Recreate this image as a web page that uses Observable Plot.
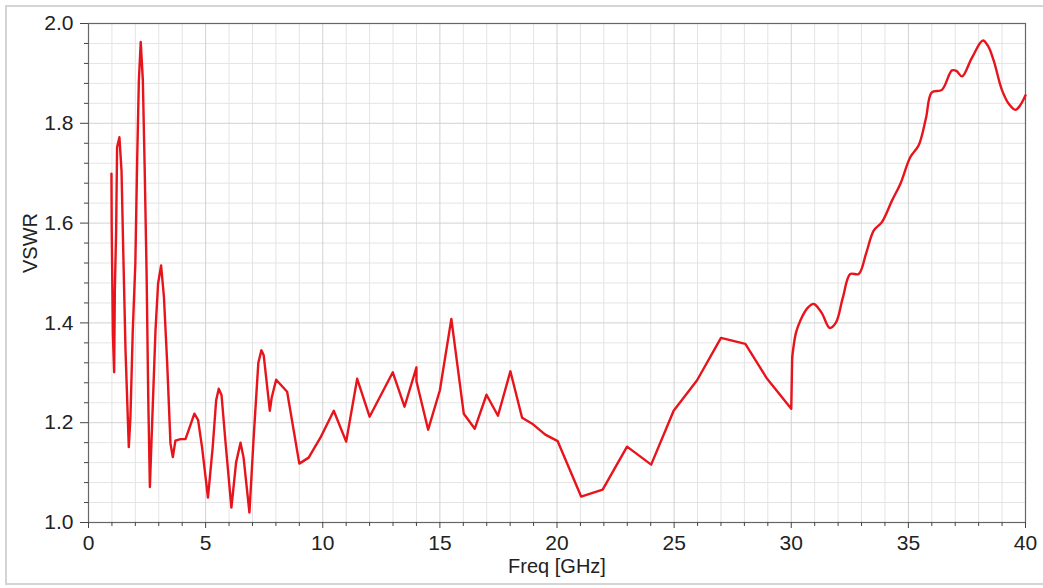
<!DOCTYPE html>
<html>
<head>
<meta charset="utf-8">
<script src="https://cdn.jsdelivr.net/npm/d3@7"></script>
<script src="https://cdn.jsdelivr.net/npm/@observablehq/plot@0.6"></script>
<style>
  body { margin: 0; background: #fff; }
  #wrap { position: relative; width: 1043px; height: 588px; overflow: hidden; }
  #border { position: absolute; left: 5px; top: 5px; width: 1050px; height: 580px; border: 2px solid #d4d4d4; box-sizing: border-box; pointer-events: none; }
</style>
</head>
<body>
<div id="wrap"><div id="border"></div></div>
<script>
const freq = [
  0.98, 0.99, 1.04, 1.095, 1.124, 1.18, 1.22, 1.32, 1.41, 1.47, 1.58, 1.72, 1.79, 1.89, 2.0, 2.08, 2.15, 2.23, 2.32, 2.40, 2.48, 2.55, 2.62, 2.69, 2.86, 2.97, 3.1, 3.22, 3.36, 3.5, 3.6, 3.71, 3.93, 4.14,
  4.35, 4.52, 4.68, 4.85, 5.1, 5.3, 5.45, 5.56, 5.68, 5.85, 6.1, 6.3, 6.49, 6.62, 6.87, 7.05, 7.25, 7.38, 7.48, 7.74, 7.82, 8.01, 8.48, 9.0, 9.4, 9.9, 10.47,
  11.0, 11.47, 12.0, 12.99, 13.49, 14.0, 14.0, 14.5, 15.0, 15.49, 16.02, 16.49, 16.99, 17.48, 18.01, 18.51, 18.94, 19.5, 20.03,
  21.03, 21.95, 22.99, 24.02, 24.98, 25.98, 27.0, 28.04, 28.97, 30.0, 30.04, 30.2, 30.39, 30.7, 30.96, 31.3, 31.64, 31.9, 32.2, 32.52, 32.88,
  33.2, 33.52, 33.87, 34.3, 34.66, 35.08, 35.44, 35.75, 36.0, 36.43, 36.86, 37.05, 37.29, 37.7, 38.18, 38.4, 38.64, 39.0, 39.3, 39.57, 39.8, 40.0
];
const vswr = [
  1.699, 1.592, 1.379, 1.301, 1.465, 1.585, 1.752, 1.772, 1.705, 1.572, 1.345, 1.151, 1.211, 1.385, 1.519, 1.732, 1.886, 1.963, 1.886, 1.705, 1.499, 1.251, 1.071, 1.164, 1.385, 1.479, 1.515, 1.452, 1.318, 1.158, 1.131, 1.164, 1.167, 1.167,
  1.195, 1.218, 1.205, 1.15, 1.05, 1.15, 1.245, 1.268, 1.255, 1.16, 1.03, 1.12, 1.16, 1.13, 1.02, 1.17, 1.32, 1.345, 1.335, 1.224, 1.25, 1.286, 1.262, 1.118, 1.13, 1.17, 1.224,
  1.162, 1.288, 1.212, 1.301, 1.232, 1.311, 1.283, 1.186, 1.265, 1.408, 1.218, 1.188, 1.256, 1.214, 1.303, 1.21, 1.198, 1.176, 1.163,
  1.052, 1.066, 1.152, 1.116, 1.224, 1.285, 1.37, 1.358, 1.288, 1.228, 1.331, 1.38, 1.405, 1.43, 1.438, 1.42, 1.39, 1.40, 1.45, 1.498, 1.498,
  1.54, 1.585, 1.602, 1.645, 1.679, 1.732, 1.756, 1.81, 1.862, 1.867, 1.906, 1.905, 1.894, 1.93, 1.966, 1.955, 1.926, 1.866, 1.838, 1.827, 1.838, 1.856
];
const xMajorTicks = [0, 5, 10, 15, 20, 25, 30, 35, 40];
const xMinorTicks = [1,2,3,4,6,7,8,9,11,12,13,14,16,17,18,19,21,22,23,24,26,27,28,29,31,32,33,34,36,37,38,39];
const yMajorTicks = [1.0, 1.2, 1.4, 1.6, 1.8, 2.0];
const yMinorTicks = [1.04,1.08,1.12,1.16,1.24,1.28,1.32,1.36,1.44,1.48,1.52,1.56,1.64,1.68,1.72,1.76,1.84,1.88,1.92,1.96];
const xLabel = "Freq [GHz]";
const yLabel = "VSWR";

const data = freq.map((f, i) => ({ f, v: vswr[i] }));
const sharpPart = data.filter(d => d.f <= 30.04);
const smoothPart = data.filter(d => d.f >= 30.04);
const font = "'Liberation Sans', Arial, sans-serif";

const chart = Plot.plot({
  width: 1043,
  height: 588,
  marginLeft: 88,
  marginRight: 18,
  marginTop: 23,
  marginBottom: 66,
  style: { fontFamily: font, color: "#222", background: "transparent", overflow: "visible" },
  x: { domain: [0, 40] },
  y: { domain: [1, 2] },
  marks: [
    Plot.ruleX(xMinorTicks, { stroke: "#e4e4e4", strokeWidth: 1 }),
    Plot.ruleY(yMinorTicks, { stroke: "#e4e4e4", strokeWidth: 1 }),
    Plot.ruleX(xMajorTicks, { stroke: "#d2d2d2", strokeWidth: 1 }),
    Plot.ruleY(yMajorTicks, { stroke: "#d2d2d2", strokeWidth: 1 }),
    Plot.frame({ stroke: "#666", strokeWidth: 1.2 }),
    Plot.axisY(yMinorTicks, { tickSize: 4, tickFormat: () => "", stroke: "#444", label: null }),
    Plot.axisY(yMajorTicks, { tickSize: 8, tickPadding: 7, tickFormat: d => d.toFixed(1), fontSize: 21, stroke: "#444", label: null }),
    Plot.axisX(xMinorTicks, { tickSize: 4, tickFormat: () => "", stroke: "#444", label: null }),
    Plot.axisX(xMajorTicks, { tickSize: 6, tickPadding: 7, tickFormat: d => String(d), fontSize: 21, stroke: "#444", label: null }),
    Plot.text([xLabel], { frameAnchor: "bottom", dy: 50, fontSize: 20, fill: "#222" }),
    Plot.text([yLabel], { frameAnchor: "left", dx: -58, rotate: -90, fontSize: 20, fill: "#222" }),
    Plot.line(sharpPart, { x: "f", y: "v", stroke: "#e8141c", strokeWidth: 2.4, strokeLinejoin: "round" }),
    Plot.line(smoothPart, { x: "f", y: "v", curve: "catmull-rom", stroke: "#e8141c", strokeWidth: 2.4, strokeLinejoin: "round" })
  ]
});
document.getElementById("wrap").prepend(chart);
</script>
</body>
</html>
